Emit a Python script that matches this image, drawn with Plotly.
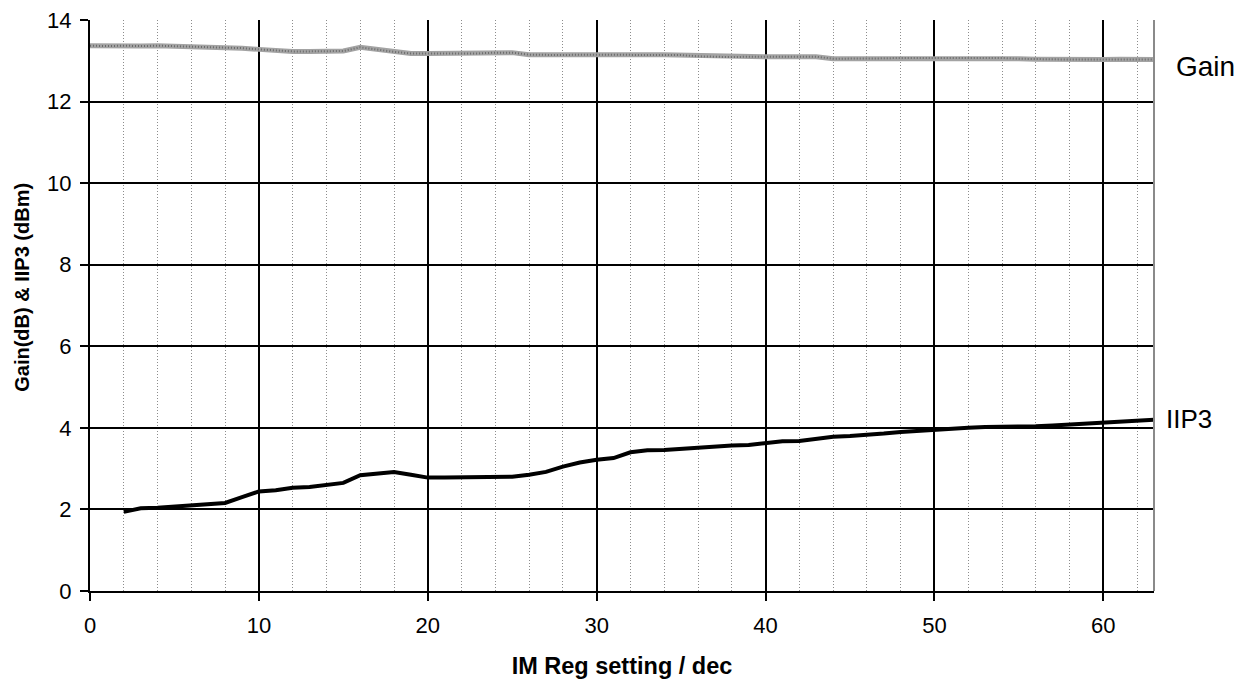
import plotly.graph_objects as go

# IM register setting (decimal) and measured results
reg_gain = list(range(0, 64))
gain_db = [13.37, 13.36, 13.37, 13.36, 13.37, 13.36, 13.35, 13.33, 13.32, 13.31,
           13.28, 13.25, 13.23, 13.23, 13.23, 13.24, 13.33, 13.27, 13.22, 13.18,
           13.18, 13.18, 13.19, 13.18, 13.20, 13.20, 13.15, 13.14, 13.14, 13.15,
           13.15, 13.14, 13.15, 13.15, 13.15, 13.14, 13.11, 13.10, 13.09, 13.10,
           13.10, 13.10, 13.09, 13.10, 13.05, 13.05, 13.06, 13.06, 13.07, 13.07,
           13.07, 13.08, 13.07, 13.07, 13.07, 13.05, 13.04, 13.03, 13.03, 13.03,
           13.03, 13.04, 13.04, 13.03]

reg_iip3 = list(range(2, 64))
iip3_dbm = [1.94, 2.03, 2.04, 2.07, 2.08, 2.11, 2.16, 2.30,
            2.44, 2.47, 2.53, 2.55, 2.59, 2.65, 2.84, 2.87, 2.92, 2.85,
            2.78, 2.78, 2.78, 2.78, 2.78, 2.80, 2.85, 2.92, 3.05, 3.15,
            3.22, 3.26, 3.40, 3.45, 3.46, 3.49, 3.50, 3.54, 3.57, 3.58,
            3.62, 3.67, 3.68, 3.73, 3.78, 3.80, 3.82, 3.86, 3.90, 3.93,
            3.96, 3.98, 4.00, 4.02, 4.02, 4.02, 4.04, 4.06, 4.08, 4.11,
            4.13, 4.15, 4.17, 4.20]

x_ticks = [0, 10, 20, 30, 40, 50, 60]
y_ticks = [0, 2, 4, 6, 8, 10, 12, 14]

FONT = "Liberation Sans, Arial, sans-serif"

fig = go.Figure()
fig.add_trace(go.Scatter(x=reg_gain, y=gain_db, mode="lines",
                         line=dict(color="#a3a3a3", width=5), name="Gain"))
fig.add_trace(go.Scatter(x=reg_gain, y=gain_db, mode="lines",
                         line=dict(color="#6a6a6a", width=2, dash="1px,2px"),
                         hoverinfo="skip", name="Gain"))
fig.add_trace(go.Scatter(x=reg_iip3, y=iip3_dbm, mode="lines",
                         line=dict(color="black", width=4), name="IIP3"))

# Series labels to the right of the plot area
fig.add_annotation(x=1, xref="paper", y=12.87, yref="y", text="Gain",
                   showarrow=False, xanchor="left", xshift=20,
                   font=dict(size=28, color="black", family=FONT))
fig.add_annotation(x=1, xref="paper", y=4.22, yref="y", text="IIP3",
                   showarrow=False, xanchor="left", xshift=10,
                   font=dict(size=26, color="black", family=FONT))

# Y-axis title, placed beside the tick labels
fig.add_annotation(x=0, xref="paper", xshift=-68, y=0.531, yref="paper",
                   text="<b>Gain(dB) & IIP3 (dBm)</b>", textangle=-90,
                   showarrow=False, xanchor="center", yanchor="middle",
                   font=dict(size=20, color="black", family=FONT))

# Grey right-hand border of the plot area
fig.add_shape(type="line", xref="paper", yref="paper", x0=1, x1=1, y0=0, y1=1,
              line=dict(color="#8a8a8a", width=2))

fig.update_layout(
    width=1248, height=680,
    margin=dict(l=90, r=94, t=20, b=89),
    paper_bgcolor="white", plot_bgcolor="white",
    showlegend=False,
    font=dict(family=FONT, color="black", size=22),
    xaxis=dict(
        range=[0, 63], tickvals=x_ticks, ticks="outside", ticklen=8,
        tickcolor="black", tickwidth=2, ticklabelstandoff=6,
        showgrid=True, gridcolor="black", gridwidth=2,
        showline=True, linecolor="black", linewidth=2,
        zeroline=False, automargin=False,
        minor=dict(dtick=2, tick0=0, showgrid=True, gridcolor="#8c8c8c",
                   gridwidth=1, griddash="1px,2px", ticks=""),
        title=dict(text="<b>IM Reg setting / dec</b>", font=dict(size=23.5),
                   standoff=20),
    ),
    yaxis=dict(
        range=[0, 14], tickvals=y_ticks, ticks="outside", ticklen=8,
        tickcolor="black", tickwidth=2, ticklabelstandoff=4,
        showgrid=True, gridcolor="black", gridwidth=1.5,
        showline=True, linecolor="black", linewidth=2,
        zeroline=False, automargin=False,
    ),
)

fig.write_html("out.html")
